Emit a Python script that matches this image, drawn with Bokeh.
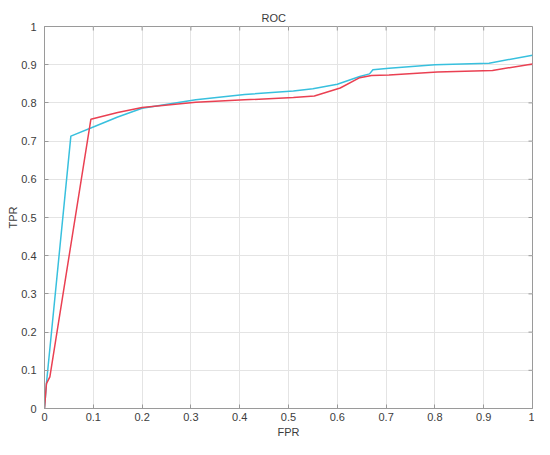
from bokeh.plotting import figure
from bokeh.models import Range1d, FixedTicker, Title
from bokeh.embed import file_html
from bokeh.resources import INLINE

# ---- data ----
cyan_fpr = [0.0, 0.004, 0.054, 0.10, 0.15, 0.20, 0.31, 0.41, 0.51, 0.55, 0.60, 0.646, 0.666, 0.673, 0.706, 0.80, 0.911, 1.0]
cyan_tpr = [0.0, 0.066, 0.713, 0.737, 0.763, 0.786, 0.808, 0.822, 0.831, 0.837, 0.849, 0.869, 0.876, 0.887, 0.891, 0.900, 0.904, 0.925]

red_fpr = [0.0, 0.004, 0.011, 0.095, 0.15, 0.20, 0.31, 0.41, 0.51, 0.553, 0.606, 0.646, 0.67, 0.706, 0.805, 0.918, 1.0]
red_tpr = [0.0, 0.065, 0.083, 0.757, 0.775, 0.788, 0.802, 0.808, 0.814, 0.818, 0.839, 0.866, 0.872, 0.873, 0.881, 0.885, 0.902]

ticks = [0.0, 0.1, 0.2, 0.3, 0.4, 0.5, 0.6, 0.7, 0.8, 0.9, 1.0]
tick_labels = ["0", "0.1", "0.2", "0.3", "0.4", "0.5", "0.6", "0.7", "0.8", "0.9", "1"]

title_text = "ROC"
x_label = "FPR"
y_label = "TPR"

FONT = "Liberation Sans"
TXT = "#3c3c3c"
AX = "#9a9a9a"

p = figure(width=534, height=439, output_backend="svg", toolbar_location=None,
           x_range=Range1d(0, 1), y_range=Range1d(0, 1), title=None,
           min_border_left=44, min_border_right=2, min_border_top=26, min_border_bottom=31)
p.background_fill_color = "white"
p.border_fill_color = "white"
p.outline_line_color = AX

overrides = {t: l for t, l in zip(ticks, tick_labels)}

for ax, standoff in ((p.xaxis[0], 4), (p.yaxis[0], 8)):
    ax.ticker = FixedTicker(ticks=ticks)
    ax.axis_line_color = AX
    ax.major_tick_line_color = AX
    ax.major_tick_in = 4
    ax.major_tick_out = 0
    ax.minor_tick_line_color = None
    ax.major_label_overrides = overrides
    ax.major_label_text_font = FONT
    ax.major_label_text_font_size = "11px"
    ax.major_label_text_color = TXT
    ax.major_label_standoff = standoff
    ax.axis_label = None

p.xgrid.ticker = FixedTicker(ticks=ticks)
p.ygrid.ticker = FixedTicker(ticks=ticks)
p.xgrid.grid_line_color = "#e4e4e4"
p.ygrid.grid_line_color = "#e4e4e4"

# inward tick marks on the top and right edges of the box
n = len(ticks)
tx = 4 / 488
ty = 4 / 382
p.segment(x0=ticks, y0=[1.0] * n, x1=ticks, y1=[1.0 - ty] * n, line_color=AX, line_width=1)
p.segment(x0=[1.0] * n, y0=ticks, x1=[1.0 - tx] * n, y1=ticks, line_color=AX, line_width=1)

p.line(cyan_fpr, cyan_tpr, line_color="#38c0de", line_width=1.5)
p.line(red_fpr, red_tpr, line_color="#ea4052", line_width=1.5)

p.add_layout(Title(text=title_text, text_font=FONT, text_font_size="11px", text_font_style="normal",
                   text_color=TXT, align="left", offset=217, standoff=5), "above")
p.add_layout(Title(text=x_label, text_font=FONT, text_font_size="11px", text_font_style="normal",
                   text_color=TXT, align="center", standoff=0), "below")
p.add_layout(Title(text=y_label, text_font=FONT, text_font_size="11px", text_font_style="normal",
                   text_color=TXT, align="center", standoff=0), "left")

open("out.html", "w").write(file_html(p, INLINE))
